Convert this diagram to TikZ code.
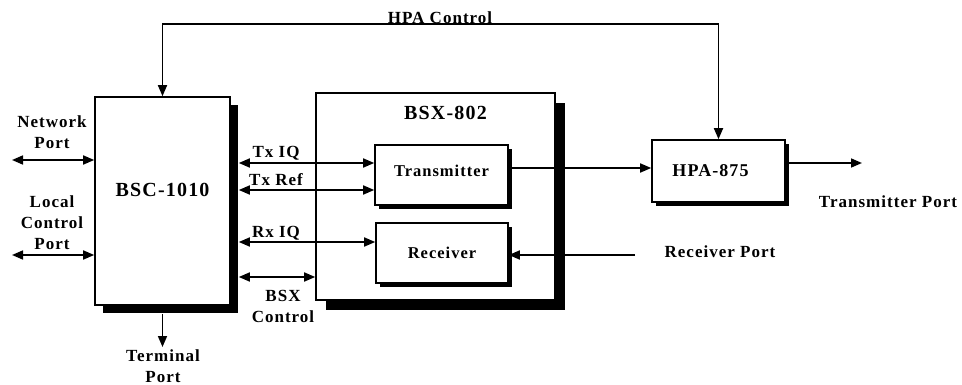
\documentclass[tikz,border=0pt]{standalone}
\usepackage{fontspec}
\setmainfont{Liberation Serif}[LetterSpace=6]
\usetikzlibrary{arrows.meta,shadows,positioning}

\tikzset{
  blk/.style={draw, line width=1.6pt, fill=white, inner sep=0pt,
    drop shadow={shadow xshift=#1, shadow yshift=-#1, fill=black, opacity=1}},
  blk/.default=4pt,
  lbl/.style={font=\bfseries\fontsize{17}{21}\selectfont, align=center, inner sep=1pt},
  biglbl/.style={font=\bfseries\fontsize{20}{23}\selectfont, inner sep=1pt},
  sig/.style={line width=1.7pt, -{Triangle[length=11pt,width=9pt]}},
  bisig/.style={line width=1.7pt, {Triangle[length=11pt,width=9pt]}-{Triangle[length=11pt,width=9pt]}},
}

\begin{document}
\begin{tikzpicture}[x=1pt,y=-1pt]

    \useasboundingbox (0,0) rectangle (962,385);

    % Blocks
    \node[blk=8pt, minimum width=135pt, minimum height=208pt,
          label={[biglbl, yshift=11pt]center:BSC-1010}] (bsc) at (162.5,201) {};
    \node[blk=10pt, minimum width=239pt, minimum height=207pt,
          label={[biglbl, below=13pt, xshift=10pt]north:BSX-802}] (bsx) at (435.5,196.5) {};
    \node[blk, minimum width=133pt, minimum height=60pt, font=\bfseries\fontsize{16.5}{20}\selectfont,
          text height=12pt, text depth=9pt] (tx) at (441.5,175) {Transmitter};
    \node[blk, minimum width=132pt, minimum height=60pt, font=\bfseries\fontsize{16.5}{20}\selectfont] (rx) at (442,253) {Receiver};
    \node[blk, minimum width=133pt, minimum height=62pt, font=\bfseries\fontsize{18}{21}\selectfont,
          text width=125pt, align=center] (hpa) at (718.5,171) {\hspace*{-16pt}HPA-875};

    % Port ends
    \coordinate (netport) at (12,160);
    \coordinate (locport) at (12,255);
    \coordinate (bscout) at ([xshift=8pt]bsc.east);
    \coordinate (txiq) at ([yshift=12pt]tx.west);
    \coordinate (txref) at ([yshift=-15pt]tx.west);
    \coordinate (rxiq) at ([yshift=11pt]rx.west);
    \coordinate (bsxctl) at (bsx.west |- 0,277);
    \coordinate (txout) at ([yshift=7pt]tx.east);
    \coordinate (hpaout) at ([yshift=8pt]hpa.east);
    \coordinate (xmtport) at (862,163);
    \coordinate (rcvport) at (635,255);
    \coordinate (termport) at (162.5,347);
    \coordinate (hpactl) at (440,24);

    % Connectors
    \draw[bisig] (netport) -- (netport -| bsc.west);
    \draw[bisig] (locport) -- (locport -| bsc.west);
    \draw[bisig] (bscout |- txiq) -- (txiq);
    \draw[bisig] (bscout |- txref) -- (txref);
    \draw[bisig] (bscout |- rxiq) -- (rxiq);
    \draw[bisig] (bscout |- bsxctl) -- (bsxctl);
    \draw[sig] (txout) -- (txout -| hpa.west);
    \draw[sig] (hpaout) -- (xmtport);
    \draw[sig] (rcvport) -- (rcvport -| rx.east);
    \draw[sig] ([yshift=-8pt]bsc.south) -- (termport);
    \draw[bisig] (bsc.north) |- (hpactl) -| (hpa.north);

    % Labels
    \node[lbl] (netlbl) at (52,132) {Network\\Port};
    \node[lbl] (loclbl) at (52,223) {Local\\Control\\Port};
    \node[lbl] (txiqlbl) at (276,153) {Tx IQ};
    \node[lbl] (txreflbl) at (276,180) {Tx Ref};
    \node[lbl] (rxiqlbl) at (276,233) {Rx IQ};
    \node[lbl] (bsxlbl) at (283,306) {BSX\\Control};
    \node[lbl] (termlbl) at (163,366) {Terminal\\Port};
    \node[lbl, above=-1pt of hpactl] (ctllbl) {HPA Control};
    \node[lbl] (xmtlbl) at (888,202) {Transmitter Port};
    \node[lbl] (rcvlbl) at (720,252) {Receiver Port};

\end{tikzpicture}
\end{document}
